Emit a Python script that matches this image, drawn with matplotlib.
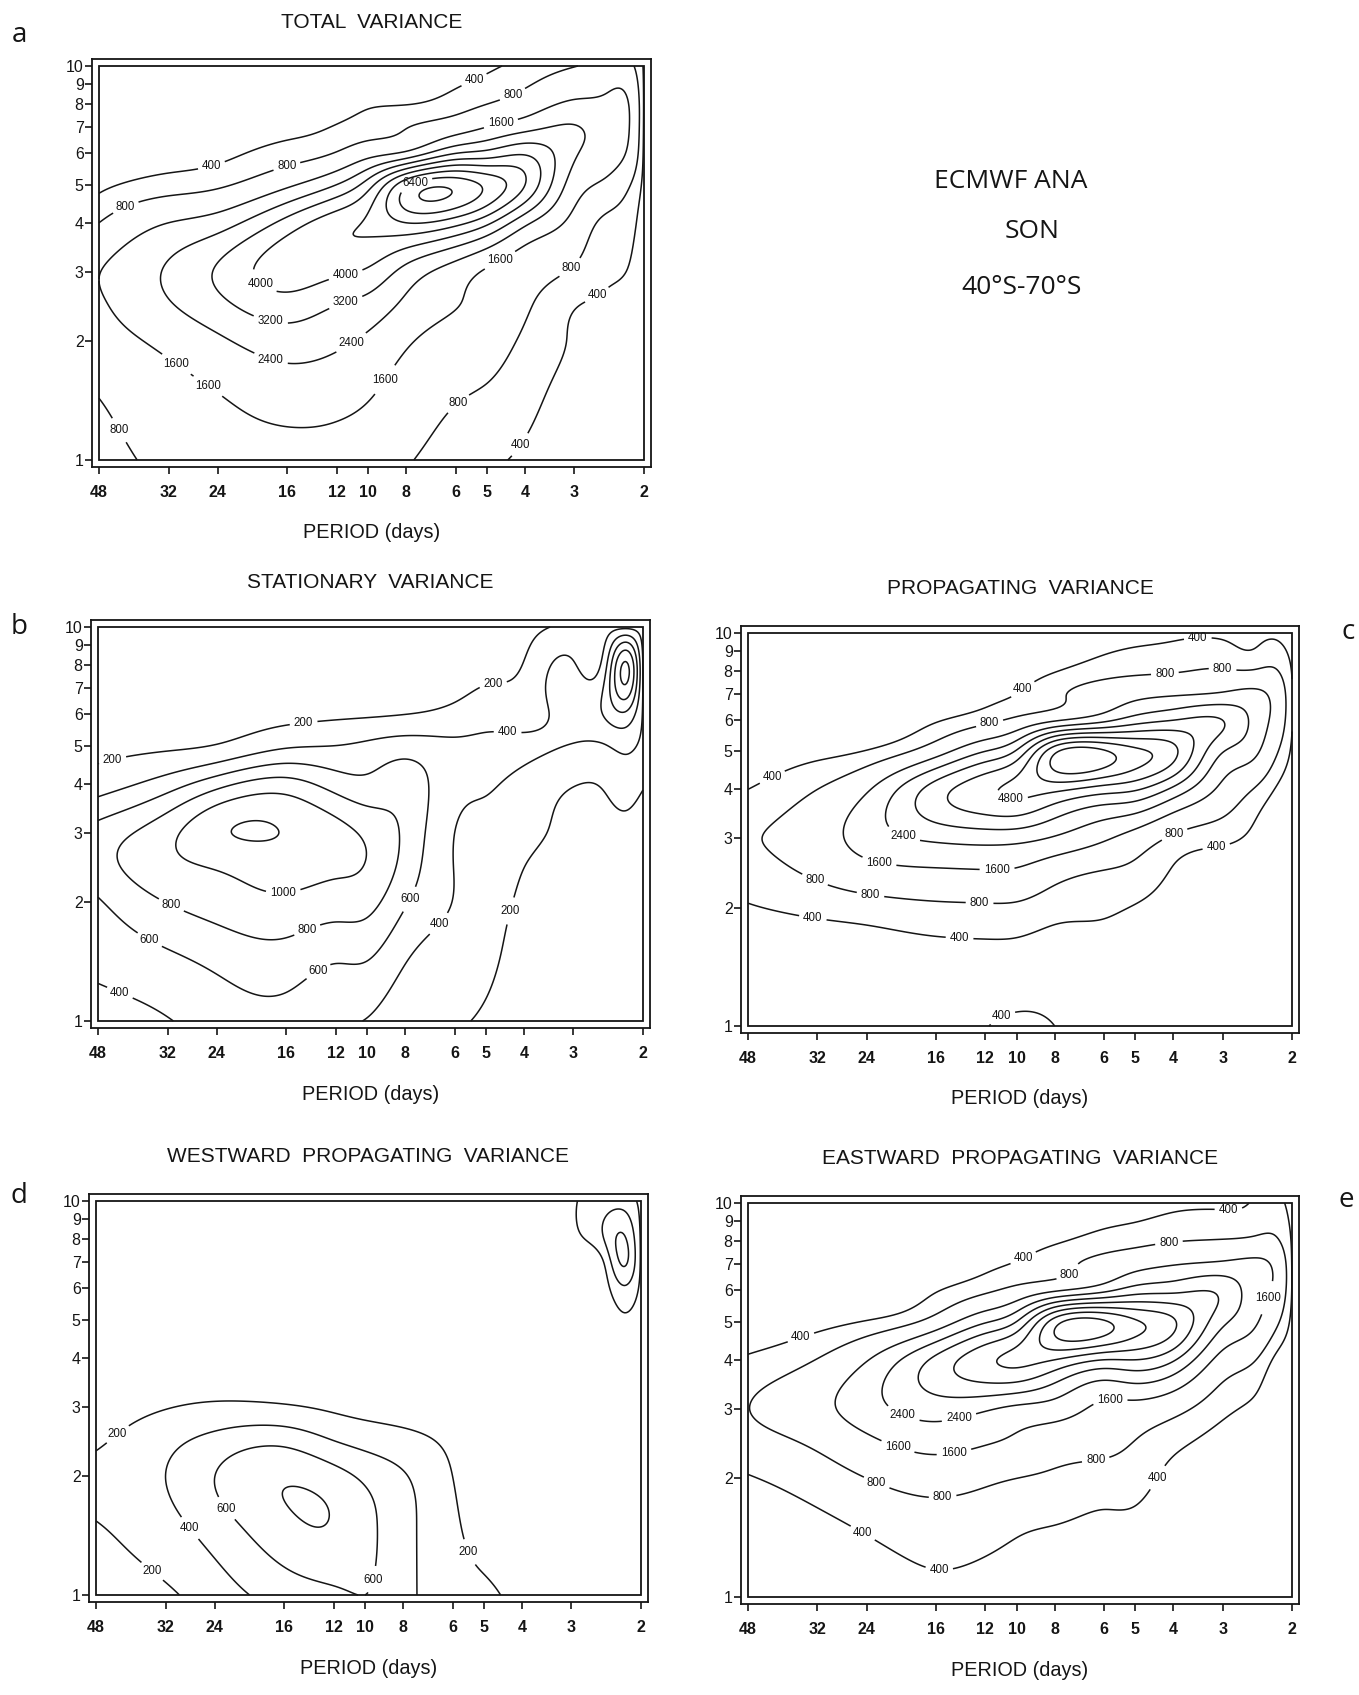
import numpy as np
import matplotlib
matplotlib.use('Agg')
import matplotlib.pyplot as plt
from matplotlib.patches import Rectangle

W, H = 1359, 1695

periods = [48, 32, 24, 16, 12, 10, 8, 6, 5, 4, 3, 2.5, 2.2, 2]
wavenumbers = [1, 1.5, 2, 2.5, 3, 4, 5, 6, 7, 8, 10]

# one list per period column, values along wavenumbers
total_var = [
    [550, 850, 1250, 1500, 1580, 800, 330, 220, 170, 130, 100],
    [1000, 1350, 1800, 2350, 2500, 1600, 550, 300, 220, 170, 120],
    [1250, 1620, 2250, 3000, 3300, 2000, 700, 330, 230, 170, 120],
    [1300, 2000, 2800, 3700, 4400, 3500, 1450, 550, 320, 230, 150],
    [1300, 1900, 2550, 3250, 4150, 4500, 2400, 850, 420, 300, 180],
    [1150, 1700, 2250, 2950, 3850, 4900, 3600, 1300, 560, 370, 200],
    [850, 1250, 1700, 2250, 2900, 5600, 6200, 1800, 780, 390, 220],
    [600, 870, 1250, 1650, 2000, 5100, 6950, 3200, 1200, 580, 280],
    [470, 760, 1100, 1350, 1500, 4200, 6200, 3500, 1600, 800, 350],
    [350, 520, 700, 900, 1100, 2600, 4800, 3900, 2100, 1150, 500],
    [220, 300, 370, 430, 720, 1350, 2000, 2500, 2450, 1750, 780],
    [150, 220, 290, 360, 440, 650, 1450, 2000, 2100, 1800, 1000],
    [100, 150, 200, 280, 390, 520, 900, 1500, 1700, 1650, 1000],
    [60, 90, 120, 160, 200, 260, 300, 330, 350, 360, 350],
]
stationary_var = [
    [300, 470, 580, 720, 680, 300, 150, 100, 80, 70, 50],
    [390, 590, 805, 950, 940, 500, 170, 110, 85, 70, 50],
    [480, 680, 890, 1030, 1165, 720, 210, 120, 90, 75, 55],
    [520, 740, 960, 1110, 1190, 880, 370, 150, 100, 80, 60],
    [430, 650, 900, 1050, 1080, 710, 400, 170, 110, 90, 65],
    [390, 640, 870, 990, 960, 650, 440, 180, 120, 95, 70],
    [250, 440, 620, 730, 760, 700, 500, 200, 130, 100, 75],
    [210, 300, 390, 395, 400, 460, 440, 260, 150, 110, 80],
    [180, 240, 280, 320, 350, 420, 440, 320, 210, 150, 100],
    [100, 140, 170, 205, 260, 340, 430, 330, 260, 210, 140],
    [50, 70, 90, 120, 150, 210, 390, 480, 500, 420, 250],
    [50, 70, 90, 110, 140, 220, 390, 620, 640, 520, 300],
    [40, 60, 80, 110, 150, 280, 450, 750, 1150, 1230, 350],
    [30, 40, 60, 80, 110, 220, 350, 380, 390, 390, 300],
]
propagating_var = [
    [150, 260, 380, 600, 750, 400, 170, 100, 70, 55, 40],
    [180, 300, 480, 950, 1200, 800, 300, 140, 90, 70, 50],
    [200, 310, 570, 1350, 1950, 1500, 420, 190, 110, 80, 60],
    [220, 320, 690, 1550, 2550, 3600, 1250, 370, 160, 100, 70],
    [390, 340, 720, 1600, 2700, 4600, 2400, 650, 300, 150, 90],
    [440, 340, 700, 1550, 2650, 5000, 3300, 950, 400, 200, 100],
    [400, 300, 520, 1150, 2300, 5000, 6200, 1500, 700, 380, 150],
    [150, 250, 450, 810, 1700, 4400, 6500, 2200, 1100, 620, 280],
    [100, 200, 380, 680, 1250, 4100, 5800, 2800, 1350, 700, 330],
    [60, 120, 250, 380, 700, 3000, 5000, 3200, 1500, 760, 350],
    [40, 80, 160, 280, 470, 1400, 2450, 3200, 1700, 850, 340],
    [30, 60, 120, 220, 340, 780, 1800, 2200, 1800, 850, 320],
    [20, 40, 80, 140, 220, 380, 900, 1300, 1300, 850, 330],
    [10, 20, 40, 70, 110, 200, 340, 420, 420, 380, 200],
]
westward_var = [
    [120, 190, 260, 160, 90, 40, 20, 15, 10, 10, 10],
    [170, 330, 400, 330, 190, 80, 40, 25, 15, 10, 10],
    [300, 500, 600, 450, 230, 90, 40, 25, 15, 10, 10],
    [480, 750, 775, 520, 220, 90, 40, 25, 15, 10, 10],
    [560, 785, 680, 380, 170, 70, 35, 20, 15, 10, 10],
    [600, 660, 560, 310, 140, 60, 30, 20, 15, 10, 10],
    [470, 470, 420, 250, 120, 50, 25, 15, 10, 10, 10],
    [260, 230, 200, 150, 80, 40, 20, 15, 10, 10, 10],
    [230, 140, 100, 70, 50, 25, 15, 10, 10, 10, 10],
    [150, 90, 60, 45, 35, 20, 15, 15, 15, 15, 15],
    [80, 50, 35, 30, 25, 20, 20, 40, 90, 150, 180],
    [50, 40, 30, 25, 25, 30, 50, 90, 180, 380, 280],
    [40, 30, 25, 20, 25, 60, 170, 370, 630, 620, 300],
    [20, 20, 15, 15, 20, 40, 100, 150, 170, 170, 150],
]
eastward_var = [
    [120, 220, 380, 620, 790, 450, 180, 100, 70, 55, 40],
    [200, 330, 560, 950, 1350, 820, 290, 140, 90, 70, 50],
    [250, 430, 800, 1450, 2050, 1550, 420, 200, 110, 80, 55],
    [340, 560, 1080, 1950, 2750, 3400, 1100, 380, 170, 100, 70],
    [300, 500, 930, 1700, 2500, 4600, 2300, 700, 320, 160, 90],
    [260, 430, 800, 1500, 2200, 5000, 3200, 1000, 430, 210, 110],
    [220, 390, 700, 1200, 2000, 4800, 6000, 1500, 650, 350, 150],
    [160, 330, 600, 1000, 1400, 4000, 6500, 2200, 1000, 560, 250],
    [130, 300, 550, 800, 1300, 4000, 5700, 2800, 1300, 650, 300],
    [50, 120, 280, 520, 1000, 3300, 4900, 3000, 1550, 780, 350],
    [40, 80, 170, 300, 480, 1300, 2600, 3000, 1750, 850, 360],
    [30, 60, 120, 230, 340, 850, 1750, 2000, 1800, 950, 420],
    [20, 40, 80, 150, 220, 330, 950, 1400, 1400, 900, 480],
    [10, 20, 40, 70, 110, 180, 300, 380, 380, 360, 300],
]

levels_800 = [400, 800, 1600, 2400, 3200, 4000, 4800, 5600, 6400, 7200]
levels_200 = [200, 400, 600, 800, 1000, 1200]

tick_periods = [48, 32, 24, 16, 12, 10, 8, 6, 5, 4, 3, 2]
tick_waves = [1, 2, 3, 4, 5, 6, 7, 8, 9, 10]

# where the contour labels sit (period, wavenumber)
labels_a = [(5.4, 9.27), (4.3, 8.45), (4.6, 7.1), (24.8, 5.5), (16, 5.5), (40.6, 4.26),
            (7.6, 5.07), (18.7, 2.79), (11.4, 2.96), (17.7, 2.23), (11.4, 2.52),
            (17.7, 1.78), (10.9, 1.95), (30.2, 1.78), (25.9, 1.5), (8.9, 1.58),
            (4.7, 3.3), (3.2, 3.23), (5.8, 1.36), (43.3, 1.18), (2.67, 2.69), (4.1, 1.09)]
labels_b = [(43.7, 4.43), (14.4, 5.46), (4.8, 7.25), (4.4, 5.52), (16.3, 2.14),
            (31.3, 1.97), (14.4, 1.77), (7.9, 2.05), (35.6, 1.6), (13.3, 1.34),
            (42.1, 1.19), (6.3, 1.7), (4.4, 1.91)]
labels_c = [(3.46, 9.3), (4.2, 7.8), (3.0, 8.1), (9.6, 7.15), (11.8, 6.1), (42, 4.37),
            (10.4, 3.62), (19.6, 2.96), (22.4, 2.56), (11.2, 2.5), (32.8, 2.3),
            (23.5, 2.14), (12.4, 2.1), (4.0, 3.12), (3.1, 2.78), (32.8, 1.91),
            (13.9, 1.79), (10.9, 1.06)]
labels_d = [(42.3, 2.56), (22.6, 1.65), (28.7, 1.44), (35.3, 1.12), (9.4, 1.09), (5.2, 1.31)]
labels_e = [(35.5, 4.66), (9.6, 7.23), (7.5, 6.87), (4.1, 7.86), (2.9, 9.4), (2.38, 5.81),
            (5.8, 3.27), (19.7, 2.8), (13.9, 2.77), (20.2, 2.34), (14.4, 2.32),
            (6.3, 2.24), (22.6, 1.96), (15.4, 1.8), (4.5, 2.04), (24.3, 1.48), (15.7, 1.19)]

# (letter, title, data, levels, labels, inner box in pixels x0, x1, y0, y1, letter pos)
panels = [
    ('a', 'TOTAL  VARIANCE', total_var, levels_800, labels_a, (99, 644, 66, 460), (19, 35)),
    ('b', 'STATIONARY  VARIANCE', stationary_var, levels_200, labels_b, (98, 643, 627, 1021), (19, 627)),
    ('c', 'PROPAGATING  VARIANCE', propagating_var, levels_800, labels_c, (748, 1292, 633, 1026), (1348, 632)),
    ('d', 'WESTWARD  PROPAGATING  VARIANCE', westward_var, levels_200, labels_d, (96, 641, 1201, 1595), (19, 1196)),
    ('e', 'EASTWARD  PROPAGATING  VARIANCE', eastward_var, levels_800, labels_e, (748, 1292, 1203, 1597), (1346, 1200)),
]


def spline_weights(x, xf):
    # natural cubic spline as a linear operator, so the grid can be smoothed
    n = len(x)
    h = np.diff(x)
    A = np.zeros((n, n))
    B = np.zeros((n, n))
    A[0, 0] = A[-1, -1] = 1.0
    for i in range(1, n - 1):
        A[i, i - 1] = h[i - 1]
        A[i, i] = 2 * (h[i - 1] + h[i])
        A[i, i + 1] = h[i]
        B[i, i - 1] = 6 / h[i - 1]
        B[i, i] = -6 / h[i - 1] - 6 / h[i]
        B[i, i + 1] = 6 / h[i]
    S = np.linalg.solve(A, B)
    j = np.clip(np.searchsorted(x, xf) - 1, 0, n - 2)
    hj = h[j]
    a = (x[j + 1] - xf) / hj
    b = (xf - x[j]) / hj
    Wt = np.zeros((len(xf), n))
    r = np.arange(len(xf))
    Wt[r, j] += a
    Wt[r, j + 1] += b
    Wt += ((a ** 3 - a) * hj ** 2 / 6)[:, None] * S[j]
    Wt += ((b ** 3 - b) * hj ** 2 / 6)[:, None] * S[j + 1]
    return Wt


u = np.log(48 / np.array(periods, float))
v = np.log(np.array(wavenumbers, float))
uf = np.linspace(u[0], u[-1], 400)
vf = np.linspace(v[0], v[-1], 300)
Wu = spline_weights(u, uf)
Wv = spline_weights(v, vf)
PF, KF = np.meshgrid(48 * np.exp(-uf), np.exp(vf))

fig = plt.figure(figsize=(W / 100, H / 100), dpi=100)
fig.patch.set_facecolor('white')
INK = '#151515'
pad = 7

for letter, title, data, levels, lab_pos, box, lpos in panels:
    x0, x1, y0, y1 = box
    ax = fig.add_axes([(x0 - pad) / W, 1 - (y1 + pad) / H,
                       (x1 - x0 + 2 * pad) / W, (y1 - y0 + 2 * pad) / H])
    ax.set_xscale('log')
    ax.set_yscale('log')
    fx = 24 ** (pad / (x1 - x0))
    fy = 10 ** (pad / (y1 - y0))
    ax.set_xlim(48 * fx, 2 / fx)
    ax.set_ylim(1 / fy, 10 * fy)

    Z = np.array(data, float).T          # (wavenumber, period)
    ZF = Wv @ Z @ Wu.T
    cs = ax.contour(PF, KF, ZF, levels=levels, colors=INK, linewidths=1.1)
    texts = ax.clabel(cs, fmt='%d', fontsize=8.3, inline=True, inline_spacing=3,
                      manual=lab_pos)
    for t in texts:
        t.set_rotation(0)
        t.set_family('Liberation Sans')

    ax.add_patch(Rectangle((2, 1), 46, 9, fill=False, lw=1.3, ec=INK, zorder=5))

    ax.set_xticks(tick_periods)
    ax.set_xticklabels([str(p) for p in tick_periods], fontsize=11.5,
                       fontweight='bold', family='Liberation Sans', color=INK)
    ax.set_yticks(tick_waves)
    ax.set_yticklabels([str(k) for k in tick_waves], fontsize=11.5,
                       family='Liberation Sans', color=INK)
    ax.xaxis.set_minor_locator(matplotlib.ticker.NullLocator())
    ax.yaxis.set_minor_locator(matplotlib.ticker.NullLocator())
    ax.tick_params(axis='both', direction='out', length=5, width=1.2, color=INK)
    ax.tick_params(axis='x', pad=8)
    ax.tick_params(axis='y', pad=1)
    for s in ax.spines.values():
        s.set_linewidth(1.3)
        s.set_color(INK)

    cx = (x0 + x1) / 2 / W
    fig.text(cx, 1 - (y0 - 44) / H, title, ha='center', va='center',
             fontsize=15, family='Liberation Sans', color=INK)
    fig.text(cx, 1 - (y1 + 73) / H, 'PERIOD (days)', ha='center', va='center',
             fontsize=14.3, family='Liberation Sans', color=INK)
    fig.text(lpos[0] / W, 1 - lpos[1] / H, letter, ha='center', va='center',
             fontsize=20, family='Open Sans', color=INK)

fig.text(1011 / W, 1 - 181 / H, 'ECMWF ANA', ha='center', va='center',
         fontsize=19, family='Open Sans', color=INK)
fig.text(1032 / W, 1 - 232 / H, 'SON', ha='center', va='center',
         fontsize=19, family='Open Sans', color=INK)
fig.text(1022 / W, 1 - 287 / H, '40°S-70°S', ha='center', va='center',
         fontsize=19, family='Open Sans', color=INK)

fig.savefig('out.png', dpi=100, facecolor='white')
